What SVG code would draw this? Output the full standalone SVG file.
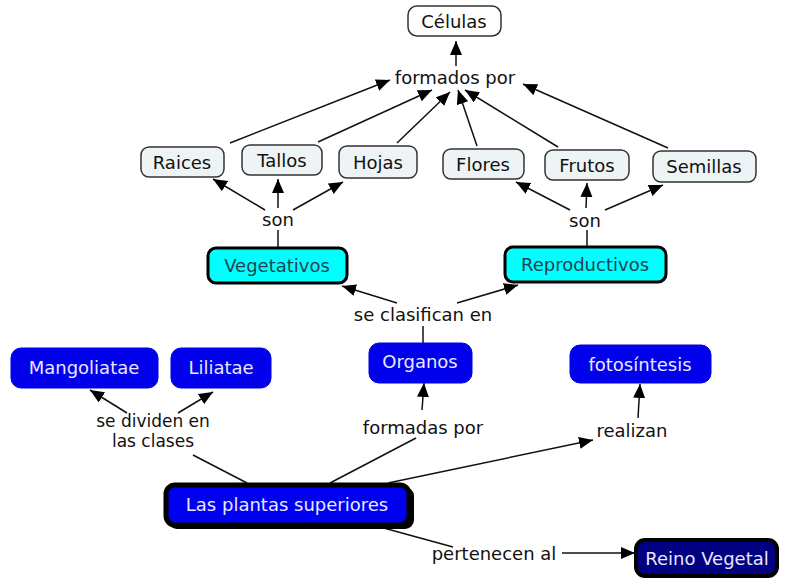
<svg xmlns="http://www.w3.org/2000/svg" width="792" height="579" viewBox="0 0 792 579">
<defs>
<marker id="ah" markerWidth="15" markerHeight="13" refX="14" refY="6" orient="auto" markerUnits="userSpaceOnUse">
<path d="M0,0 L14,6 L0,12 z" fill="#000"/>
</marker>
<style>
text{font-family:"DejaVu Sans","Liberation Sans",sans-serif;font-size:18px;text-anchor:middle;dominant-baseline:central}
.lbl{fill:#111}
.sm{font-size:17px}
.pale{fill:#eef3f5;stroke:#333;stroke-width:1.5}
.white{fill:#fff;stroke:#333;stroke-width:1.5}
.cyan{fill:#00ffff;stroke:#000;stroke-width:3}
.cyt{fill:#1e4450}
.blue{fill:#0000ea;stroke:#0000ea;stroke-width:1}
.wt{fill:#e8e8ff}
.c line{stroke:#111;stroke-width:1.5}
.c .a{marker-end:url(#ah)}
</style>
</defs>
<rect width="792" height="579" fill="#fff"/>
<g class="c" id="connectors">
<line class="a" x1="456" y1="66" x2="456" y2="41"/>
<line class="a" x1="230" y1="143" x2="390" y2="80"/>
<line class="a" x1="318" y1="142" x2="432" y2="90"/>
<line class="a" x1="397" y1="143" x2="450" y2="92"/>
<line class="a" x1="477" y1="146" x2="458" y2="90"/>
<line class="a" x1="558" y1="147" x2="465" y2="90"/>
<line class="a" x1="668" y1="148" x2="523" y2="84"/>
<line class="a" x1="265" y1="210" x2="213" y2="179"/>
<line class="a" x1="278" y1="208" x2="278" y2="179"/>
<line class="a" x1="293" y1="210" x2="343" y2="182"/>
<line class="a" x1="570" y1="210" x2="516" y2="182"/>
<line class="a" x1="586" y1="208" x2="587" y2="183"/>
<line class="a" x1="605" y1="210" x2="663" y2="185"/>
<line x1="278" y1="248" x2="278" y2="230"/>
<line x1="587" y1="247" x2="587" y2="230"/>
<line class="a" x1="397" y1="303" x2="342" y2="286"/>
<line class="a" x1="457" y1="303" x2="518" y2="285"/>
<line x1="423" y1="343" x2="423" y2="326"/>
<line class="a" x1="127" y1="413" x2="90" y2="390"/>
<line class="a" x1="178" y1="413" x2="213" y2="392"/>
<line x1="247" y1="483" x2="193" y2="455"/>
<line class="a" x1="422" y1="410" x2="424" y2="383"/>
<line x1="330" y1="483" x2="416" y2="438"/>
<line class="a" x1="638" y1="418" x2="640" y2="384"/>
<line class="a" x1="388" y1="483" x2="593" y2="440"/>
<line x1="380" y1="527" x2="453" y2="547"/>
<line class="a" x1="562" y1="553" x2="635" y2="553"/>
</g>
<g id="celulas"><rect class="white" x="408" y="6" width="93" height="30" rx="9"/><text class="lbl" x="454" y="21">Células</text></g>
<g id="formados-por"><text class="lbl" x="455" y="77">formados por</text></g>
<g id="raices"><rect class="pale" x="141" y="147" width="83" height="30" rx="8"/><text class="lbl" x="182" y="162">Raices</text></g>
<g id="tallos"><rect class="pale" x="242" y="145" width="80" height="30" rx="8"/><text class="lbl" x="282" y="160">Tallos</text></g>
<g id="hojas"><rect class="pale" x="339" y="146" width="78" height="32" rx="8"/><text class="lbl" x="378" y="162">Hojas</text></g>
<g id="flores"><rect class="pale" x="443" y="149" width="81" height="30" rx="8"/><text class="lbl" x="483" y="164">Flores</text></g>
<g id="frutos"><rect class="pale" x="545" y="150" width="84" height="30" rx="8"/><text class="lbl" x="587" y="165">Frutos</text></g>
<g id="semillas"><rect class="pale" x="653" y="151" width="103" height="31" rx="8"/><text class="lbl" x="704" y="166">Semillas</text></g>
<g id="son-1"><text class="lbl" x="278" y="219">son</text></g>
<g id="son-2"><text class="lbl" x="585" y="220">son</text></g>
<g id="vegetativos"><rect class="cyan" x="208" y="248" width="139" height="35" rx="8"/><text class="cyt" x="277" y="265">Vegetativos</text></g>
<g id="reproductivos"><rect class="cyan" x="505" y="247" width="161" height="35" rx="8"/><text class="cyt" x="585" y="264">Reproductivos</text></g>
<g id="se-clasifican"><text class="lbl" x="423" y="314">se clasifican en</text></g>
<g id="organos"><rect class="blue" x="369" y="343" width="103" height="40" rx="10"/><text class="wt" x="420" y="361">Organos</text></g>
<g id="fotosintesis"><rect class="blue" x="570" y="345" width="141" height="38" rx="10"/><text class="wt" x="640" y="364">fotosíntesis</text></g>
<g id="mangoliatae"><rect class="blue" x="11" y="348" width="147" height="40" rx="10"/><text class="wt" x="84" y="367">Mangoliatae</text></g>
<g id="liliatae"><rect class="blue" x="171" y="348" width="100" height="40" rx="10"/><text class="wt" x="221" y="367">Liliatae</text></g>
<g id="se-dividen"><text class="lbl sm" x="153" y="421">se dividen en</text><text class="lbl sm" x="153" y="441">las clases</text></g>
<g id="formadas-por"><text class="lbl" x="423" y="427">formadas por</text></g>
<g id="realizan"><text class="lbl" x="632" y="430">realizan</text></g>
<g id="plantas"><rect x="168" y="487" width="246" height="42" rx="9" fill="#000"/><rect x="166" y="485" width="243" height="40" rx="9" fill="#0000f0" stroke="#000" stroke-width="5"/><text class="wt" x="287" y="504">Las plantas superiores</text></g>
<g id="pertenecen"><text class="lbl" x="494" y="553">pertenecen al</text></g>
<g id="reino"><rect x="636" y="540" width="141" height="36" rx="9" fill="#000080" stroke="#000" stroke-width="4"/><text class="wt" x="707" y="558">Reino Vegetal</text></g>
</svg>
